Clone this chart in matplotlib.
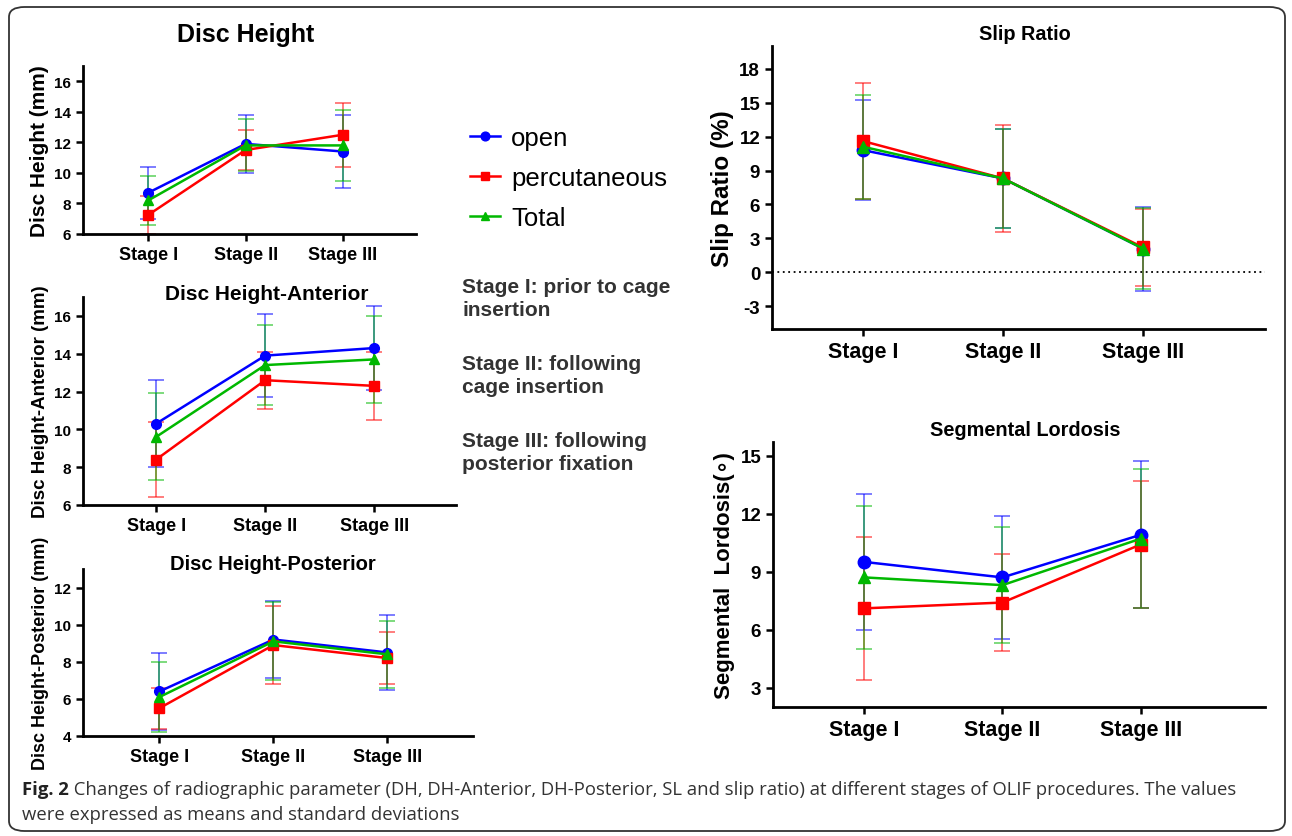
import matplotlib
matplotlib.use("Agg")
import matplotlib.pyplot as plt
from matplotlib.patches import FancyBboxPatch

# ----------------------------
# Data (means and SD bounds)
# ----------------------------
stages = ["Stage I", "Stage II", "Stage III"]
groups = ["open", "percutaneous", "Total"]

dh_mean = {"open": [8.7, 11.9, 11.4], "percutaneous": [7.25, 11.5, 12.5], "Total": [8.2, 11.8, 11.8]}
dh_sd = {"open": [1.7, 1.9, 2.4], "percutaneous": [1.25, 1.3, 2.1], "Total": [1.6, 1.7, 2.3]}

dha_mean = {"open": [10.3, 13.9, 14.3], "percutaneous": [8.4, 12.6, 12.3], "Total": [9.6, 13.4, 13.7]}
dha_sd = {"open": [2.3, 2.2, 2.2], "percutaneous": [2.0, 1.5, 1.8], "Total": [2.3, 2.1, 2.3]}

dhp_mean = {"open": [6.4, 9.2, 8.5], "percutaneous": [5.5, 8.9, 8.2], "Total": [6.1, 9.1, 8.4]}
dhp_sd = {"open": [2.1, 2.1, 2.0], "percutaneous": [1.1, 2.1, 1.4], "Total": [1.9, 2.1, 1.8]}

slip_mean = {"open": [10.8, 8.3, 2.1], "percutaneous": [11.6, 8.3, 2.2], "Total": [11.1, 8.3, 2.1]}
slip_sd = {"open": [4.4, 4.4, 3.7], "percutaneous": [5.1, 4.7, 3.4], "Total": [4.6, 4.4, 3.6]}

sl_mean = {"open": [9.5, 8.7, 10.9], "percutaneous": [7.1, 7.4, 10.4], "Total": [8.7, 8.3, 10.7]}
sl_sd = {"open": [3.5, 3.2, 3.8], "percutaneous": [3.7, 2.5, 3.3], "Total": [3.7, 3.0, 3.6]}

stage_notes = [
    "Stage I: prior to cage\ninsertion",
    "Stage II: following\ncage insertion",
    "Stage III: following\nposterior fixation",
]

caption_bold = "Fig. 2"
caption_rest = (" Changes of radiographic parameter (DH, DH-Anterior, DH-Posterior, SL and slip ratio)"
                " at different stages of OLIF procedures. The values")
caption_line2 = "were expressed as means and standard deviations"

# ----------------------------
# Style
# ----------------------------
COLORS = {"open": "#0000FF", "percutaneous": "#FF0000", "Total": "#00B800"}
MARKERS = {"open": "o", "percutaneous": "s", "Total": "^"}
FONT = ["Liberation Sans", "DejaVu Sans"]
CAP_FONT = ["Open Sans", "DejaVu Sans"]
plt.rcParams["font.family"] = FONT

W, H = 1292, 837
fig = plt.figure(figsize=(W / 100, H / 100), dpi=100)


def px_axes(left, top, right, bottom):
    return fig.add_axes([left / W, 1 - bottom / H, (right - left) / W, (bottom - top) / H])


def draw_panel(ax, means, sds, ylim, yticks, ylabel, tick_fs, xtick_fs, ylabel_fs,
               ms=7, xlim=(-0.67, 2.75), labelpad=4):
    handles = []
    x = range(len(stages))
    for g in groups:
        c = ax.errorbar(x, means[g], yerr=sds[g], color=COLORS[g], marker=MARKERS[g],
                        ms=ms, lw=1.8, capsize=6, elinewidth=1.3, capthick=1.3, clip_on=False)
        for part in c[2]:
            part.set_alpha(0.55)
        for cap in c[1]:
            cap.set_alpha(0.55)
        handles.append(c[0])
    ax.set_xlim(*xlim)
    ax.set_ylim(*ylim)
    ax.set_xticks(list(x))
    ax.set_xticklabels(stages, fontsize=xtick_fs, fontweight="bold")
    ax.set_yticks(yticks)
    ax.set_yticklabels([str(t) for t in yticks], fontsize=tick_fs, fontweight="bold")
    ax.set_ylabel(ylabel, fontsize=ylabel_fs, fontweight="bold", labelpad=labelpad)
    for s in ("top", "right"):
        ax.spines[s].set_visible(False)
    for s in ("left", "bottom"):
        ax.spines[s].set_linewidth(2)
    ax.tick_params(width=1.8, length=5, direction="out")
    ax.patch.set_alpha(0)
    return handles


# Disc Height
ax1 = px_axes(83, 67, 416, 235)
handles = draw_panel(ax1, dh_mean, dh_sd, (6, 17), [6, 8, 10, 12, 14, 16],
                     "Disc Height (mm)", 11, 13, 15)
fig.text(246 / W, 1 - 35 / H, "Disc Height", ha="center", va="center", fontsize=18, fontweight="bold")

# Disc Height-Anterior
ax2 = px_axes(83, 298, 456, 506)
draw_panel(ax2, dha_mean, dha_sd, (6, 17), [6, 8, 10, 12, 14, 16],
           "Disc Height-Anterior (mm)", 11, 13, 13.5)
fig.text(267 / W, 1 - 294 / H, "Disc Height-Anterior", ha="center", va="center", fontsize=15, fontweight="bold")

# Disc Height-Posterior
ax3 = px_axes(83, 570, 473, 737)
draw_panel(ax3, dhp_mean, dhp_sd, (4, 13), [4, 6, 8, 10, 12],
           "Disc Height-Posterior (mm)", 11, 13, 13)
fig.text(273 / W, 1 - 565 / H, "Disc Height-Posterior", ha="center", va="center", fontsize=14.5, fontweight="bold")

# Slip Ratio
ax4 = px_axes(772, 47, 1265, 330)
draw_panel(ax4, slip_mean, slip_sd, (-5, 20), [-3, 0, 3, 6, 9, 12, 15, 18],
           "Slip Ratio (%)", 13.5, 15.5, 17.5, ms=9, xlim=(-0.65, 2.87))
ax4.axhline(0, color="black", lw=1.3, ls=(0, (1, 2)), zorder=0)
fig.text(1025 / W, 1 - 35 / H, "Slip Ratio", ha="center", va="center", fontsize=14.3, fontweight="bold")

# Segmental Lordosis
ax5 = px_axes(773, 443, 1265, 708)
draw_panel(ax5, sl_mean, sl_sd, (2, 15.7), [3, 6, 9, 12, 15],
           "Segmental  Lordosis(\u2218)", 13.5, 15.5, 16, ms=9, xlim=(-0.66, 2.9))
fig.text(1025 / W, 1 - 431 / H, "Segmental Lordosis", ha="center", va="center", fontsize=14.3, fontweight="bold")

# Legend
fig.legend(handles, groups, loc="upper left", bbox_to_anchor=(470 / W, 1 - 127 / H),
           frameon=False, fontsize=18.5, handlelength=1.15, handletextpad=0.45,
           labelspacing=0.63, markerscale=0.9, borderpad=0, borderaxespad=0)

# Stage notes
for i, note in enumerate(stage_notes):
    fig.text(462 / W, 1 - (278 + 77 * i) / H, note, ha="left", va="top", fontsize=15,
             fontweight="bold", color="#333333", linespacing=1.25)

# Caption
t = fig.text(22 / W, 1 - 790 / H, caption_bold, ha="left", va="center", fontsize=13.3,
             fontweight="bold", family=CAP_FONT, color="#222222")
fig.canvas.draw()
bb = t.get_window_extent()
fig.text(bb.x1 / W, 1 - 790 / H, caption_rest, ha="left", va="center", fontsize=13.3,
         family=CAP_FONT, color="#333333")
fig.text(22 / W, 1 - 815 / H, caption_line2, ha="left", va="center", fontsize=13.3,
         family=CAP_FONT, color="#333333")

# Outer rounded frame
frame = FancyBboxPatch((9 / W, 5 / H), 1276 / W, 824 / H, boxstyle="round,pad=0,rounding_size=0.012",
                       transform=fig.transFigure, fill=False, ec="#333333", lw=1.3, clip_on=False)
fig.patches.append(frame)

fig.savefig("out.png", dpi=100)
